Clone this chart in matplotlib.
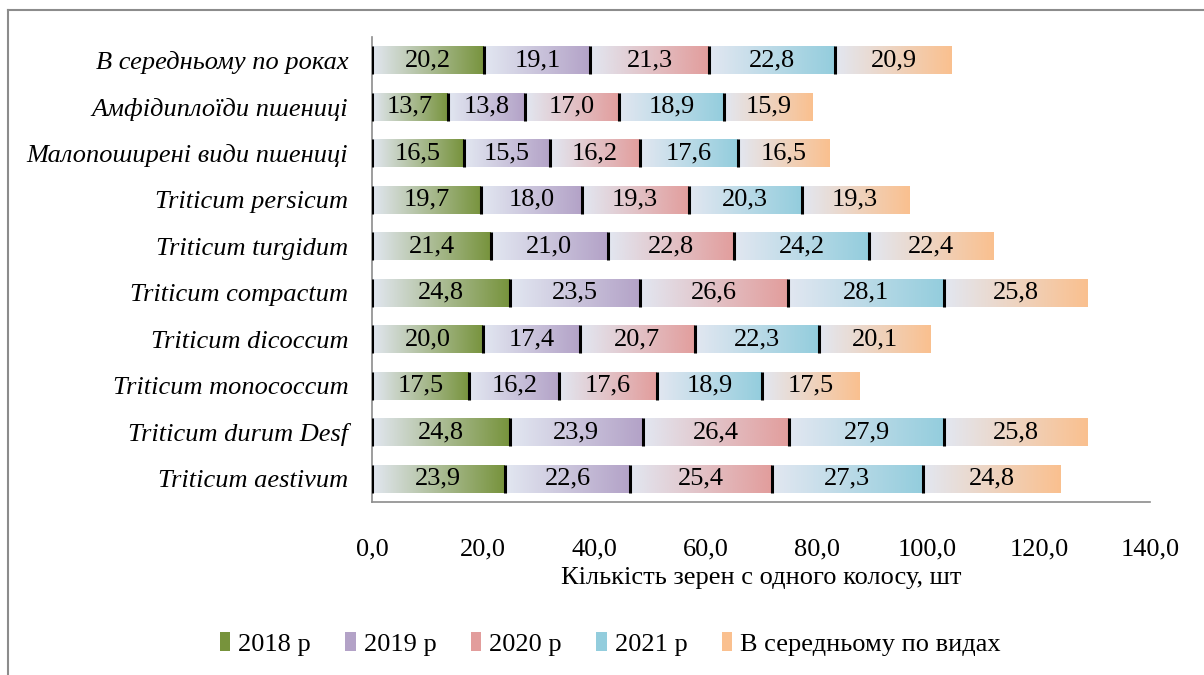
import numpy as np
import matplotlib
matplotlib.use("Agg")
import matplotlib.pyplot as plt
from matplotlib.colors import LinearSegmentedColormap, to_rgb
from matplotlib.patches import Patch
from matplotlib.lines import Line2D

# ---- data (bottom to top) ----
categories = [
    "Triticum aestivum",
    "Triticum durum Desf",
    "Triticum monococcum",
    "Triticum dicoccum",
    "Triticum compactum",
    "Triticum turgidum",
    "Triticum persicum",
    "Малопоширені види пшениці",
    "Амфідиплоїди пшениці",
    "В середньому по роках",
]
series_names = ["2018 р", "2019 р", "2020 р", "2021 р", "В середньому по видах"]
v2018 = [23.9, 24.8, 17.5, 20.0, 24.8, 21.4, 19.7, 16.5, 13.7, 20.2]
v2019 = [22.6, 23.9, 16.2, 17.4, 23.5, 21.0, 18.0, 15.5, 13.8, 19.1]
v2020 = [25.4, 26.4, 17.6, 20.7, 26.6, 22.8, 19.3, 16.2, 17.0, 21.3]
v2021 = [27.3, 27.9, 18.9, 22.3, 28.1, 24.2, 20.3, 17.6, 18.9, 22.8]
vavg = [24.8, 25.8, 17.5, 20.1, 25.8, 22.4, 19.3, 16.5, 15.9, 20.9]
series = [v2018, v2019, v2020, v2021, vavg]
colors = ["#77933c", "#b3a2c7", "#e29d9c", "#93cddd", "#fac08f"]
light = "#e2e7f1"
xticks = [0, 20, 40, 60, 80, 100, 120, 140]

plt.rcParams["font.family"] = ["Liberation Serif", "DejaVu Serif"]
FS = 19

fig = plt.figure(figsize=(12.04, 6.75), dpi=100)
ax = fig.add_axes([372 / 1204, 1 - 502 / 675, (1150 - 372) / 1204, (502 - 37) / 675])

y = np.arange(len(categories))
left = np.zeros(len(categories))
for vals, col, name in zip(series, colors, series_names):
    bars = ax.barh(y, vals, left=left, height=0.6, color="none", edgecolor="none", label=name)
    cmap = LinearSegmentedColormap.from_list("g", [to_rgb(light), to_rgb(col)])
    grad = np.linspace(0, 1, 256).reshape(1, -1)
    for b, v in zip(bars, vals):
        x0, y0, w, h = b.get_x(), b.get_y(), b.get_width(), b.get_height()
        im = ax.imshow(grad, extent=[x0, x0 + w, y0, y0 + h], aspect="auto",
                       cmap=cmap, origin="lower", zorder=2, interpolation="bicubic")
        im.set_clip_path(b)
        ax.vlines(x0, y0, y0 + h, color="black", lw=2.2, zorder=3)
        ax.text(x0 + w / 2, y0 + h / 2, f"{v:.1f}".replace(".", ","),
                ha="center", va="center", fontsize=FS, zorder=4)
    left = left + np.array(vals)

ax.set_xlim(0, 140)
ax.set_ylim(-0.5, len(categories) - 0.5)
ax.set_yticks(y)
ax.set_yticklabels(categories, fontsize=FS, style="italic")
ax.set_xticks(xticks)
ax.set_xticklabels([f"{t:.1f}".replace(".", ",") for t in xticks], fontsize=FS)
ax.tick_params(axis="both", length=0)
ax.tick_params(axis="y", pad=17)
ax.tick_params(axis="x", pad=26)
for s in ["top", "right"]:
    ax.spines[s].set_visible(False)
for s in ["left", "bottom"]:
    ax.spines[s].set_color("#8c8c8c")
    ax.spines[s].set_linewidth(1.2)
ax.set_xlabel("Кількість зерен с одного колосу, шт", fontsize=FS, labelpad=5)

handles = [Patch(facecolor=c, edgecolor="none") for c in colors]
fig.legend(handles, series_names, loc="center", bbox_to_anchor=(0.507, 1 - 644 / 675),
           ncol=5, frameon=False, fontsize=FS, handlelength=0.4, handleheight=0.7,
           handletextpad=0.3, columnspacing=1.3)

# outer frame
fig.add_artist(Line2D([8 / 1204, 8 / 1204], [0, 1 - 10 / 675], transform=fig.transFigure,
                      color="#8c8c8c", lw=1.5))
fig.add_artist(Line2D([8 / 1204, 1], [1 - 10 / 675, 1 - 10 / 675], transform=fig.transFigure,
                      color="#8c8c8c", lw=1.5))

fig.savefig("out.png", dpi=100)
